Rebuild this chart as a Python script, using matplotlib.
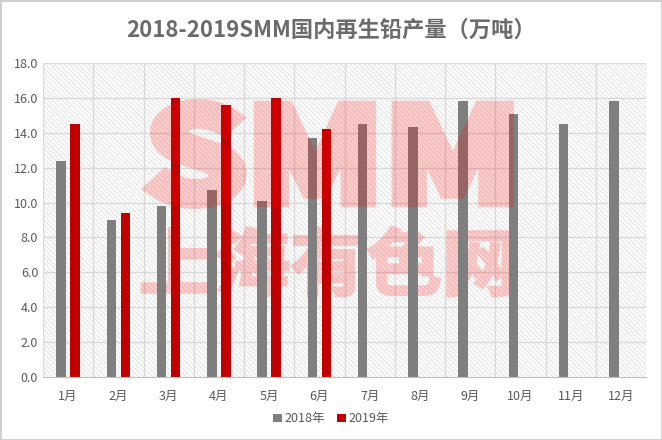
import matplotlib.pyplot as plt
from matplotlib.font_manager import FontProperties
from matplotlib.patches import PathPatch
from matplotlib.textpath import TextPath
from matplotlib.transforms import Affine2D, IdentityTransform
import numpy as np

plt.rcParams['font.family'] = ['Noto Sans CJK SC', 'DejaVu Sans']
plt.rcParams['hatch.linewidth'] = 0.5

# =============================================================================
# data
# =============================================================================
months = ['1月', '2月', '3月', '4月', '5月', '6月',
          '7月', '8月', '9月', '10月', '11月', '12月']
y2018 = [12.4, 9.0, 9.8, 10.7, 10.1, 13.7,
         14.5, 14.3, 15.8, 15.1, 14.5, 15.8]
y2019 = [14.5, 9.4, 16.0, 15.6, 16.0, 14.2]
yticks = [0, 2, 4, 6, 8, 10, 12, 14, 16, 18]

txt = '#595959'
grid = '#d9d9d9'


def fade(im, dpi):
    # group alpha for the watermark, so the thick stroke doesn't double up
    im = im.copy()
    im[..., 3] *= 0.2
    return im, 0, 0


def watermark(s, box, lw, zorder):
    # text outline stretched into a pixel box (x0, y0, x1, y1), y from bottom
    tp = TextPath((0, 0), s, size=100,
                  prop=FontProperties(family='Noto Sans CJK SC', weight='bold'))
    bb = tp.get_extents()
    x0, y0, x1, y1 = box
    tr = (Affine2D().translate(-bb.x0, -bb.y0)
          .scale((x1 - x0) / bb.width, (y1 - y0) / bb.height)
          .translate(x0, y0))
    p = PathPatch(tr.transform_path(tp), transform=IdentityTransform(),
                  fc='red', ec='red', lw=lw, zorder=zorder)
    p.set_agg_filter(fade)
    return p


fig = plt.figure(figsize=(6.62, 4.40), dpi=100)
fig.patch.set_edgecolor('#d0d0d0')
fig.patch.set_linewidth(2)
ax = fig.add_axes([0.065, 0.143, 0.911, 0.714])

# hatched plot area
ax.patch.set_facecolor('white')
ax.patch.set_hatch('\\\\\\\\\\\\\\')
ax.patch.set_edgecolor('#d6d6d6')
ax.patch.set_linewidth(0)

x = np.arange(len(months))
w = 0.19
off = 0.14
ax.bar(x - off, y2018, w, color='#7f7f7f', label='2018年', zorder=3)
ax.bar(x[:len(y2019)] + off, y2019, w, color='#c00000', label='2019年', zorder=3)

ax.set_xlim(-0.5, len(months) - 0.5)
ax.set_ylim(0, 18)
ax.set_yticks(yticks)
ax.set_yticklabels(['%.1f' % v for v in yticks])
ax.set_xticks(x)
ax.set_xticklabels(months)
ax.tick_params(length=0, colors=txt, labelsize=9)
ax.tick_params(axis='x', pad=9)

# grid: horizontal values, vertical category borders
for v in yticks[1:]:
    ax.axhline(v, color=grid, lw=1, zorder=1)
for b in np.arange(-0.5, len(months), 1.0):
    ax.axvline(b, color=grid, lw=1, zorder=1)
for s in ['top', 'right', 'left']:
    ax.spines[s].set_visible(False)
ax.spines['bottom'].set_color('#bfbfbf')
ax.spines['bottom'].set_zorder(4)

fig.text(0.5, 0.932, '2018-2019SMM国内再生铅产量（万吨）', ha='center', va='center',
         fontsize=16, fontweight='bold', color='#6b6b6b')

# watermark: SMM over the bars, Chinese name under them
fig.add_artist(watermark('SMM', (152, 238, 507, 334), 10, 10))
ax.add_patch(watermark('上海有色网', (142, 144, 512, 213), 2, 2))

leg = fig.legend(loc='center', bbox_to_anchor=(0.5, 0.048), ncol=2, frameon=False,
                 fontsize=9, handlelength=0.7, handleheight=0.7, handletextpad=0.2,
                 columnspacing=1.0)
for t in leg.get_texts():
    t.set_color(txt)

fig.savefig('out.png', dpi=100)
